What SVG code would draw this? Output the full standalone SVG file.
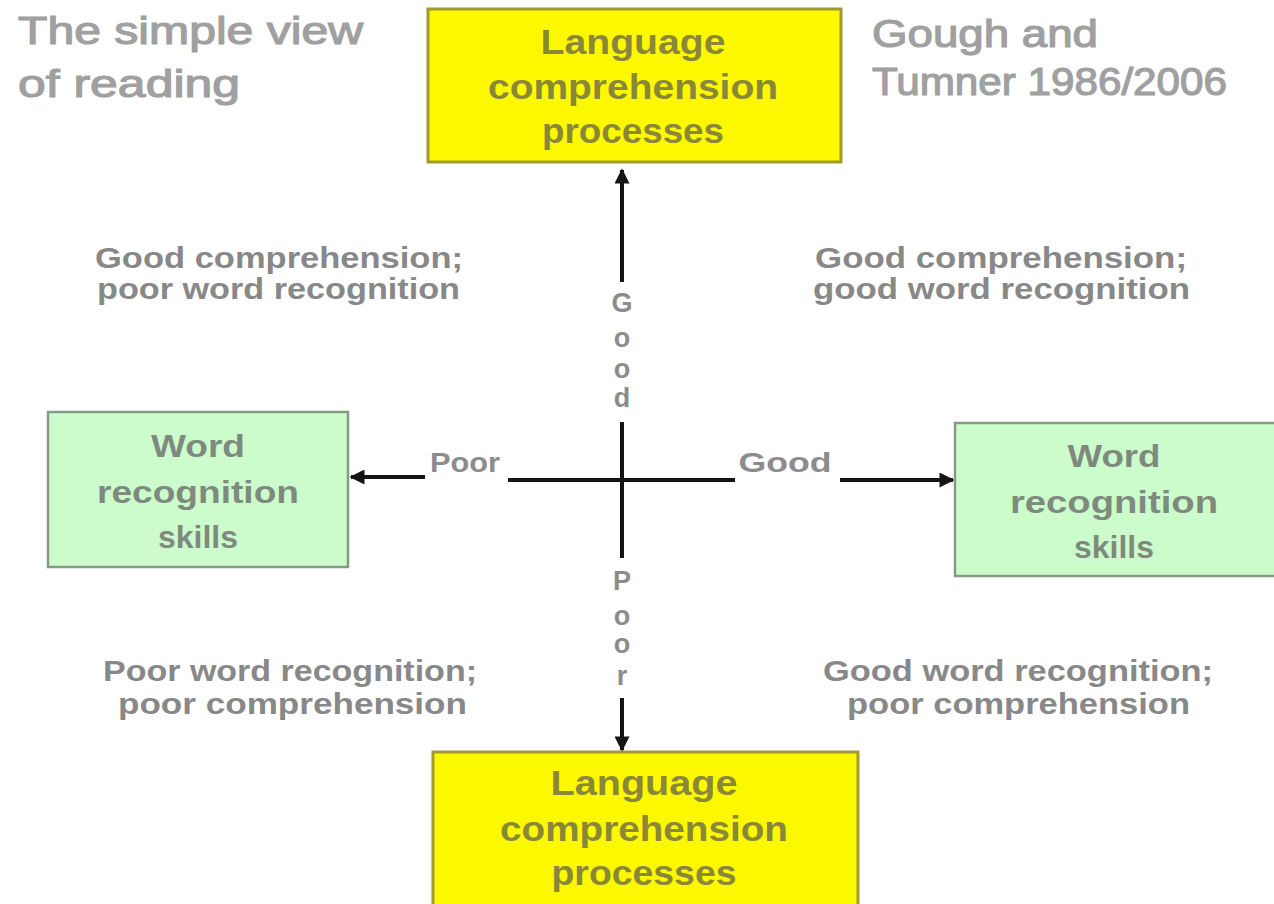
<svg xmlns="http://www.w3.org/2000/svg" width="1274" height="904" viewBox="0 0 1274 904">
<style>
.t{font-family:"Liberation Sans",Arial,sans-serif;font-weight:bold}
.title{fill:#a0a0a0;font-size:39px;font-weight:normal;stroke:#a0a0a0;stroke-width:1.2}
.quad{fill:#888888;font-size:29px}
.ylw{fill:#fcf800;stroke:#a09a30;stroke-width:3}
.ytx{fill:#8a8838;font-size:35px;text-anchor:middle}
.grn{fill:#ccfccc;stroke:#859a85;stroke-width:2.5}
.gtx{fill:#7e8a7e;font-size:32px;text-anchor:middle}
.ax{fill:#8c8c8c;font-size:27px;text-anchor:middle}
.ln{stroke:#151515;stroke-width:4;fill:none}
</style>
<defs>
<marker id="ah" viewBox="0 0 10 10" refX="9" refY="5" markerWidth="16" markerHeight="15" markerUnits="userSpaceOnUse" orient="auto">
<path d="M0,0 L10,5 L0,10 z" fill="#151515"/>
</marker>
</defs>
<rect width="1274" height="904" fill="#ffffff"/>
<g id="title">
<text class="t title" x="18" y="44" textLength="345" lengthAdjust="spacingAndGlyphs">The simple view</text>
<text class="t title" x="18" y="97" textLength="222" lengthAdjust="spacingAndGlyphs">of reading</text>
</g>
<g id="citation">
<text class="t title" x="872" y="47" textLength="226" lengthAdjust="spacingAndGlyphs">Gough and</text>
<text class="t title" x="872" y="95" textLength="355" lengthAdjust="spacingAndGlyphs">Tumner 1986/2006</text>
</g>
<g id="lang-top">
<rect class="ylw" x="428" y="9" width="413" height="153"/>
<text class="t ytx" x="633" y="54" textLength="185" lengthAdjust="spacingAndGlyphs">Language</text>
<text class="t ytx" x="633" y="99" textLength="290" lengthAdjust="spacingAndGlyphs">comprehension</text>
<text class="t ytx" x="633" y="143" textLength="182" lengthAdjust="spacingAndGlyphs">processes</text>
</g>
<g id="lang-bottom">
<rect class="ylw" x="433" y="752" width="425" height="160"/>
<text class="t ytx" x="644" y="795" textLength="187" lengthAdjust="spacingAndGlyphs">Language</text>
<text class="t ytx" x="644" y="841" textLength="288" lengthAdjust="spacingAndGlyphs">comprehension</text>
<text class="t ytx" x="644" y="885" textLength="185" lengthAdjust="spacingAndGlyphs">processes</text>
</g>
<g id="word-left">
<rect class="grn" x="48" y="412" width="300" height="155"/>
<text class="t gtx" x="198" y="457" textLength="94" lengthAdjust="spacingAndGlyphs">Word</text>
<text class="t gtx" x="198" y="503" textLength="202" lengthAdjust="spacingAndGlyphs">recognition</text>
<text class="t gtx" x="198" y="548" textLength="80" lengthAdjust="spacingAndGlyphs">skills</text>
</g>
<g id="word-right">
<rect class="grn" x="955" y="423" width="325" height="153"/>
<text class="t gtx" x="1114" y="467" textLength="93" lengthAdjust="spacingAndGlyphs">Word</text>
<text class="t gtx" x="1114" y="513" textLength="208" lengthAdjust="spacingAndGlyphs">recognition</text>
<text class="t gtx" x="1114" y="558" textLength="80" lengthAdjust="spacingAndGlyphs">skills</text>
</g>
<g id="quadrant-labels">
<text class="t quad" x="95" y="268" textLength="368" lengthAdjust="spacingAndGlyphs">Good comprehension;</text>
<text class="t quad" x="97" y="299" textLength="363" lengthAdjust="spacingAndGlyphs">poor word recognition</text>
<text class="t quad" x="815" y="268" textLength="372" lengthAdjust="spacingAndGlyphs">Good comprehension;</text>
<text class="t quad" x="813" y="299" textLength="377" lengthAdjust="spacingAndGlyphs">good word recognition</text>
<text class="t quad" x="103" y="681" textLength="374" lengthAdjust="spacingAndGlyphs">Poor word recognition;</text>
<text class="t quad" x="118" y="714" textLength="349" lengthAdjust="spacingAndGlyphs">poor comprehension</text>
<text class="t quad" x="823" y="681" textLength="390" lengthAdjust="spacingAndGlyphs">Good word recognition;</text>
<text class="t quad" x="847" y="714" textLength="343" lengthAdjust="spacingAndGlyphs">poor comprehension</text>
</g>
<g id="connectors">
<line class="ln" x1="622" y1="282" x2="622" y2="170" marker-end="url(#ah)"/>
<line class="ln" x1="622" y1="422" x2="622" y2="558"/>
<line class="ln" x1="508" y1="480" x2="735" y2="480"/>
<line class="ln" x1="622" y1="698" x2="622" y2="750" marker-end="url(#ah)"/>
<line class="ln" x1="425" y1="477" x2="351" y2="477" marker-end="url(#ah)"/>
<line class="ln" x1="840" y1="480" x2="953" y2="480" marker-end="url(#ah)"/>
</g>
<g id="axis-labels">
<text class="t ax" x="622" y="312">G</text>
<text class="t ax" x="622" y="347">o</text>
<text class="t ax" x="622" y="378">o</text>
<text class="t ax" x="622" y="407">d</text>
<text class="t ax" x="622" y="590">P</text>
<text class="t ax" x="622" y="625">o</text>
<text class="t ax" x="622" y="653">o</text>
<text class="t ax" x="622" y="685">r</text>
<text class="t ax" x="465" y="472" textLength="70" lengthAdjust="spacingAndGlyphs">Poor</text>
<text class="t ax" x="785" y="472" textLength="93" lengthAdjust="spacingAndGlyphs">Good</text>
</g>
</svg>
